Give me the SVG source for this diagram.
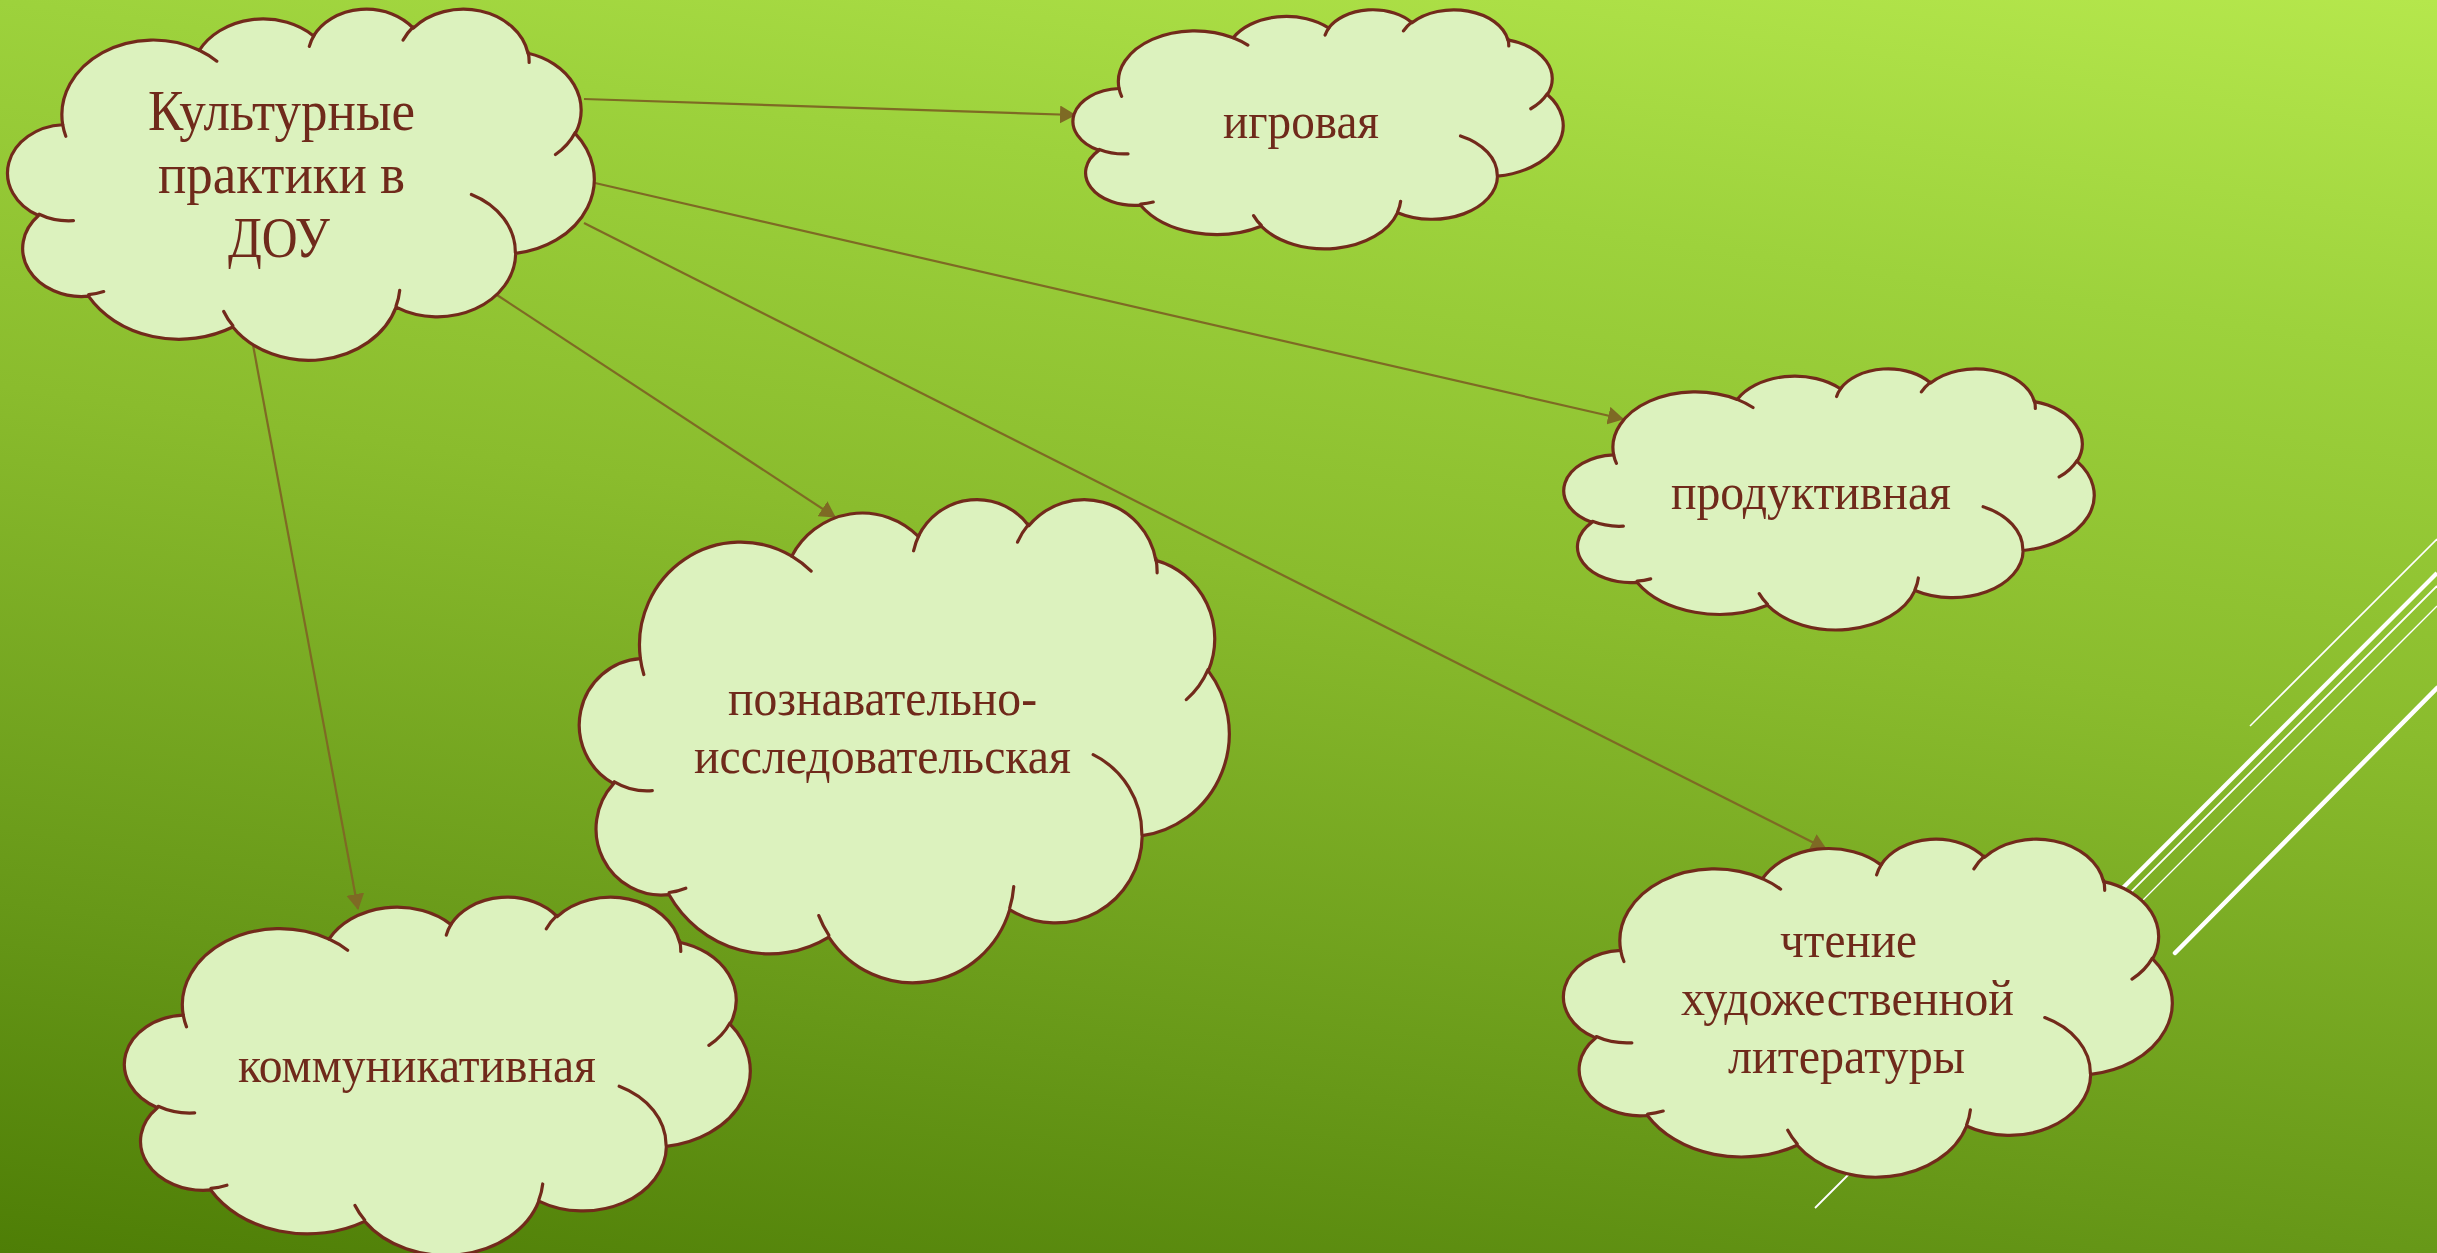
<svg xmlns="http://www.w3.org/2000/svg" xmlns:xlink="http://www.w3.org/1999/xlink" width="2437" height="1253" viewBox="0 0 2437 1253">
<style>
.cb{fill:#DCF2BE;stroke:#722A1B;stroke-width:3.2;vector-effect:non-scaling-stroke;stroke-linejoin:round}
.cl{fill:none;stroke:#722A1B;stroke-width:3.2;vector-effect:non-scaling-stroke;stroke-linecap:round}
.lbl{font-family:"Liberation Serif","Times New Roman",serif;font-size:51px;fill:#6F2A1B}
.root{font-size:56px}
.conn{stroke:#7E6A24;stroke-width:2.2;fill:none;marker-end:url(#arr)}
.deco{stroke:#FFFFFF;fill:none}
</style>
<defs>
<linearGradient id="bg" gradientUnits="userSpaceOnUse" x1="2437" y1="0" x2="2209" y2="1573">
<stop offset="0" stop-color="#B5E74C"/>
<stop offset="0.22" stop-color="#9DD23C"/>
<stop offset="0.46" stop-color="#8ABC2D"/>
<stop offset="0.78" stop-color="#679818"/>
<stop offset="1" stop-color="#4E7E06"/>
</linearGradient>
<marker id="arr" markerUnits="userSpaceOnUse" viewBox="0 0 16 18" markerWidth="16" markerHeight="18" refX="15" refY="9" orient="auto">
<path d="M0,0 L16,9 L0,18 Z" fill="#7E6A24"/>
</marker>
<path id="cloudBody" class="cb" d="M3900,14370 A6753,9190 0 0 1 14005,5202 A5333,7267 0 0 1 22456,3432 A4365,5945 0 0 1 29833,2481 A4857,6595 0 0 1 38318,5576 A5333,7273 0 0 1 41818,15460 A6775,9220 0 0 1 37404,30203 A5785,7867 0 0 1 28556,36813 A6752,9215 0 0 1 16480,39264 A7720,10543 0 0 1 5805,35470 A4360,5918 0 0 1 2114,25548 A4345,5945 0 0 1 3900,14370 Z"/>
<path id="cloudLines" class="cl" d="M4693,26177 A4345,5945 0 0 1 2160,25380 M6928,34899 A4360,5918 0 0 1 5820,35281 M16478,39090 A6752,9215 0 0 1 15810,37350 M28827,34751 A6752,9215 0 0 1 28560,36660 M34129,22954 A5785,7867 0 0 1 37380,30090 M41798,15354 A5333,7273 0 0 1 40350,18030 M38324,5426 A4857,6595 0 0 1 38400,6690 M29078,3952 A4857,6595 0 0 1 29820,2340 M22141,4720 A4365,5945 0 0 1 22500,3330 M14000,5192 A6753,9190 0 0 1 15300,6540 M4127,15789 A6753,9190 0 0 1 3900,14370"/>
</defs>
<rect x="0" y="0" width="2437" height="1253" fill="url(#bg)"/>
<g id="decor">
<line class="deco" x1="2250" y1="726" x2="2437" y2="539" stroke-width="1.6"/>
<line class="deco" x1="2060" y1="951" x2="2437" y2="573" stroke-width="4.2"/>
<line class="deco" x1="1815" y1="1208" x2="2437" y2="586" stroke-width="1.8"/>
<line class="deco" x1="2100" y1="943" x2="2437" y2="606" stroke-width="1.3"/>
<line class="deco" x1="2175" y1="953" x2="2437" y2="688" stroke-width="4.5" stroke-linecap="round"/>
</g>
<g id="connectors">
<line class="conn" x1="584" y1="99" x2="1075" y2="115"/>
<line class="conn" x1="595" y1="183" x2="1623" y2="419"/>
<line class="conn" x1="584" y1="223" x2="1826" y2="849"/>
<line class="conn" x1="497" y1="295" x2="835" y2="517"/>
<line class="conn" x1="253" y1="345" x2="358" y2="909"/>
</g>
<g id="node-root">
<g transform="translate(10,8) scale(0.013519,0.008125)"><use href="#cloudBody"/><use href="#cloudLines"/></g>
<text class="lbl root" x="148" y="130" textLength="267" lengthAdjust="spacingAndGlyphs">Культурные</text>
<text class="lbl root" x="158" y="193" textLength="247" lengthAdjust="spacingAndGlyphs">практики в</text>
<text class="lbl root" x="228" y="257" textLength="102" lengthAdjust="spacingAndGlyphs">ДОУ</text>
</g>
<g id="node-igrovaya">
<g transform="translate(1075,9) scale(0.011296,0.005532)"><use href="#cloudBody"/><use href="#cloudLines"/></g>
<text class="lbl" x="1223" y="138" textLength="156" lengthAdjust="spacingAndGlyphs">игровая</text>
</g>
<g id="node-produktivnaya">
<g transform="translate(1566,368) scale(0.012222,0.006042)"><use href="#cloudBody"/><use href="#cloudLines"/></g>
<text class="lbl" x="1671" y="509" textLength="280" lengthAdjust="spacingAndGlyphs">продуктивная</text>
</g>
<g id="node-poznavatelno">
<g transform="translate(582,498) scale(0.014977,0.011181)"><use href="#cloudBody"/><use href="#cloudLines"/></g>
<text class="lbl" x="728" y="715" textLength="309" lengthAdjust="spacingAndGlyphs">познавательно-</text>
<text class="lbl" x="694" y="773" textLength="377" lengthAdjust="spacingAndGlyphs">исследовательская</text>
</g>
<g id="node-chtenie">
<g transform="translate(1566,838) scale(0.014028,0.007824)"><use href="#cloudBody"/><use href="#cloudLines"/></g>
<text class="lbl" x="1780" y="957" textLength="137" lengthAdjust="spacingAndGlyphs">чтение</text>
<text class="lbl" x="1681" y="1015" textLength="333" lengthAdjust="spacingAndGlyphs">художественной</text>
<text class="lbl" x="1728" y="1073" textLength="237" lengthAdjust="spacingAndGlyphs">литературы</text>
</g>
<g id="node-kommunikativnaya">
<g transform="translate(127,896) scale(0.014421,0.008287)"><use href="#cloudBody"/><use href="#cloudLines"/></g>
<text class="lbl" x="238" y="1082" textLength="358" lengthAdjust="spacingAndGlyphs">коммуникативная</text>
</g>
</svg>
